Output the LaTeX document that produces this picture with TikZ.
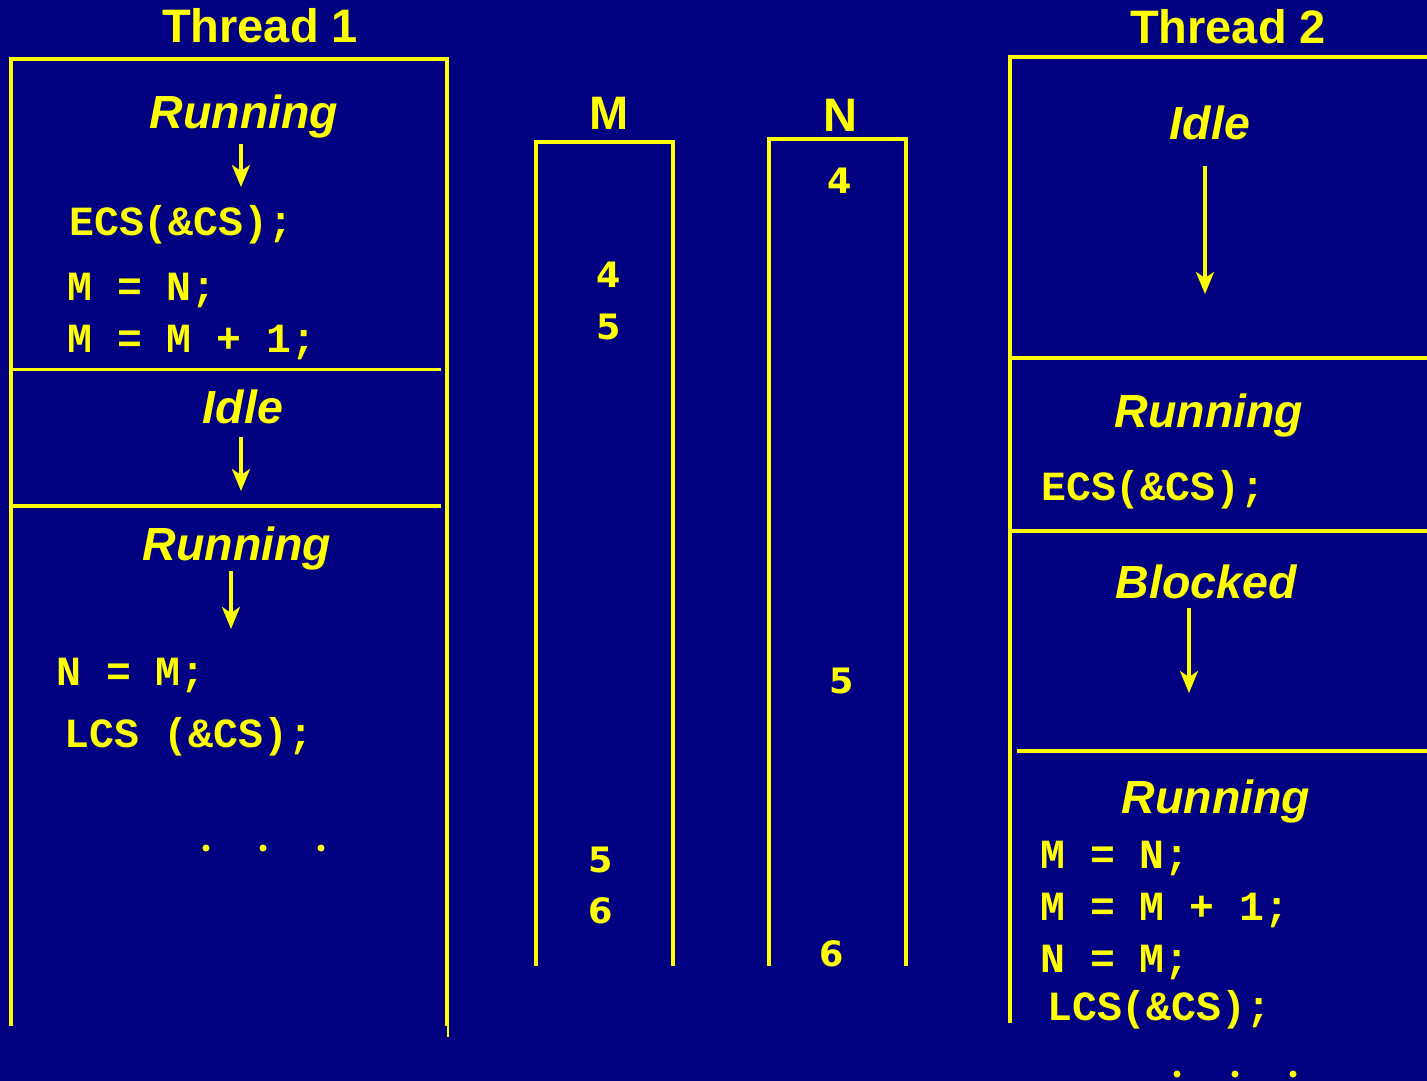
\documentclass[tikz,border=0pt]{standalone}
\usepackage{fontspec}
\setmainfont{Liberation Sans}
\newfontfamily\codefont{Liberation Mono}
\newfontfamily\digitfont{DejaVu Sans}
\usetikzlibrary{arrows.meta}
\definecolor{navybg}{RGB}{0,0,128}
\definecolor{yel}{RGB}{255,255,0}
\tikzset{
  heading/.style={inner sep=0pt, anchor=base, text=yel, font=\fontsize{47}{56}\selectfont\bfseries},
  colhead/.style={inner sep=0pt, anchor=base, text=yel, font=\fontsize{47}{56}\selectfont\bfseries},
  statelbl/.style={inner sep=0pt, anchor=base, text=yel, font=\fontsize{46.5}{54}\selectfont\bfseries\itshape},
  codeline/.style={inner sep=0pt, anchor=base west, text=yel, font=\fontsize{41.5}{50}\selectfont\codefont\bfseries},
  digitlbl/.style={inner sep=0pt, anchor=base, text=yel, font=\fontsize{35}{42}\selectfont\digitfont\bfseries},
  boxline/.style={draw=yel, line width=3.8pt},
  divline/.style={draw=yel, line width=3.3pt},
  flowarrow/.style={draw=yel, line width=3.3pt, -{Stealth[length=22pt,width=18pt,inset=6pt]}},
  dotmark/.style={fill=yel, draw=none}
}
\begin{document}
\begin{tikzpicture}[x=1pt,y=-1pt]
\fill[navybg] (0,0) rectangle (1427,1081);
\useasboundingbox (0,0) rectangle (1427,1081);

% ---------- Thread 1 ----------
\node[heading] (t1) at (260,43) {Thread 1};
\draw[boxline] (11,1026) -- (11,59) -- (447,59) -- (447,1026);
\draw[draw=yel, line width=2pt] (448,1024) -- (448,1037);
\draw[divline] (11,369.5) -- (441,369.5);
\draw[divline] (11,506) -- (441,506);

\node[statelbl] (t1run1) at (244,128) {Running};
\coordinate (a1s) at (241,144);
\coordinate (a1e) at (241,187);
\draw[flowarrow] (a1s) -- (a1e);
\node[codeline] (t1ecs) at (69,235) {ECS(\&CS);};
\node[codeline] (t1mn) at (67,300) {M = N;};
\node[codeline] (t1mm) at (67,352) {M = M + 1;};

\node[statelbl] (t1idle) at (243,423) {Idle};
\coordinate (a2s) at (241,437);
\coordinate (a2e) at (241,491);
\draw[flowarrow] (a2s) -- (a2e);

\node[statelbl] (t1run2) at (237,560) {Running};
\coordinate (a3s) at (231,571);
\coordinate (a3e) at (231,629);
\draw[flowarrow] (a3s) -- (a3e);
\node[codeline] (t1nm) at (56,685) {N = M;};
\node[codeline] (t1lcs) at (64,747) {LCS (\&CS);};

\fill[dotmark] (206,848) circle (3.5);
\fill[dotmark] (263,848) circle (3.5);
\fill[dotmark] (321,848) circle (3.5);

% ---------- M and N ----------
\node[colhead] (mlbl) at (609,129) {M};
\node[colhead] (nlbl) at (840,131) {N};
\draw[boxline] (536,966) -- (536,142) -- (673,142) -- (673,966);
\draw[boxline] (769,966) -- (769,139) -- (906,139) -- (906,966);

\node[digitlbl] (m4) at (609,287) {4};
\node[digitlbl] (m5a) at (609,339) {5};
\node[digitlbl] (m5b) at (601,872) {5};
\node[digitlbl] (m6) at (601,923) {6};
\node[digitlbl] (n4) at (840,193) {4};
\node[digitlbl] (n5) at (842,693) {5};
\node[digitlbl] (n6) at (832,966) {6};

% ---------- Thread 2 ----------
\node[heading] (t2) at (1228,44) {Thread 2};
\draw[boxline] (1010,1023) -- (1010,57) -- (1432,57);
\draw[divline] (1010,358) -- (1432,358);
\draw[divline] (1010,531) -- (1432,531);
\draw[divline] (1017,751) -- (1432,751);

\node[statelbl] (t2idle) at (1210,139) {Idle};
\coordinate (b1s) at (1205,166);
\coordinate (b1e) at (1205,294);
\draw[flowarrow] (b1s) -- (b1e);

\node[statelbl] (t2run1) at (1209,427) {Running};
\node[codeline] (t2ecs) at (1041,500) {ECS(\&CS);};

\node[statelbl] (t2blk) at (1206,598) {Blocked};
\coordinate (b2s) at (1189,608);
\coordinate (b2e) at (1189,693);
\draw[flowarrow] (b2s) -- (b2e);

\node[statelbl] (t2run2) at (1216,813) {Running};
\node[codeline] (t2mn) at (1040,868) {M = N;};
\node[codeline] (t2mm) at (1040,920) {M = M + 1;};
\node[codeline] (t2nm) at (1040,972) {N = M;};
\node[codeline] (t2lcs) at (1047,1020) {LCS(\&CS);};

\fill[dotmark] (1177,1074) circle (3.5);
\fill[dotmark] (1235,1074) circle (3.5);
\fill[dotmark] (1293,1074) circle (3.5);
\end{tikzpicture}
\end{document}
